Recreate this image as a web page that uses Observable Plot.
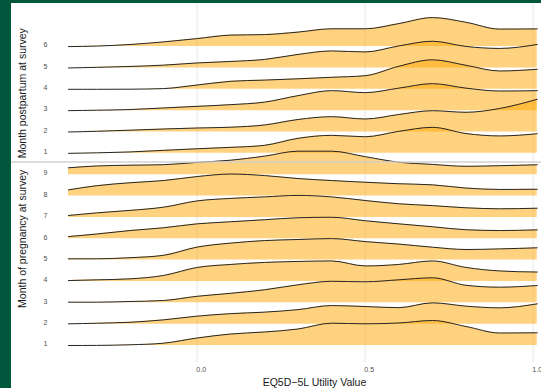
<!DOCTYPE html>
<html><head><meta charset="utf-8">
<script src="https://cdn.jsdelivr.net/npm/d3@7"></script>
<script src="https://cdn.jsdelivr.net/npm/@observablehq/plot@0.6"></script>
<style>
html,body{margin:0;padding:0;background:#00573c;width:541px;height:388px;overflow:hidden}
#chart{position:absolute;left:11px;top:3px;width:530px;height:385px;background:#fff;overflow:hidden}
</style></head><body><div id="chart"></div>
<script>
// EQ5D-5L utility grid at which ridge densities were read
const utility = [-0.383, -0.3, -0.2, -0.1, 0, 0.1, 0.2, 0.3, 0.4, 0.5, 0.6, 0.7, 0.8, 0.9, 1.012];

const pregnancyMonths = [1, 2, 3, 4, 5, 6, 7, 8, 9];
const postpartumMonths = [1, 2, 3, 4, 5, 6];

// densities (relative height) per month, at the utility grid
const pregnancy1 = [0, 0.1, 0.7, 2.3, 7.5, 11.5, 13.5, 16.5, 22.3, 21.7, 22.5, 25, 19, 12.5, 12.7];
const pregnancy2 = [0.3, 0.9, 1.9, 4.3, 8, 10.5, 12, 14.5, 18.6, 17.6, 16.5, 21.3, 18, 16.3, 20.3];
const pregnancy3 = [0.6, 0.6, 1.3, 2.3, 6.5, 9.5, 13, 18, 21.5, 21, 23, 25, 17.5, 15.6, 17.3];
const pregnancy4 = [0.9, 1.6, 2.6, 6, 14, 17, 19, 20, 20.5, 15.5, 17, 20.5, 14, 10.5, 9.4];
const pregnancy5 = [1.3, 1.3, 2.4, 4.8, 13, 17, 19.5, 20.6, 21.5, 18.5, 16, 12.9, 10.6, 11.2, 12.3];
const pregnancy6 = [2.2, 4.7, 8.2, 11, 14.9, 17, 19, 21, 21.5, 18, 14.9, 12, 9, 8.2, 8.9];
const pregnancy7 = [1.9, 4.5, 7, 10.2, 16.5, 19, 20.5, 22, 20.5, 16.9, 13.6, 11.8, 9.6, 8.6, 9.2];
const pregnancy8 = [6.2, 10.3, 13.3, 15.5, 19.5, 22, 20.5, 17.5, 15.5, 13.8, 12.3, 11.2, 8, 6.6, 6.8];
const pregnancy9 = [6.9, 8.7, 9.5, 10, 12.3, 14.5, 18.5, 23.5, 23.5, 18, 12.5, 10.3, 8.4, 9, 9.9];

const postpartum1 = [0, 0.5, 1.4, 3, 4.6, 6, 8, 15, 18, 16.6, 22, 26, 19.8, 17.4, 19.6];
const postpartum2 = [0, 0.7, 1.8, 3, 4, 4.8, 7, 12.5, 15.3, 13, 17.5, 21.3, 19.7, 23.5, 32.7];
const postpartum3 = [0, 0.4, 1.1, 2.7, 4.3, 6, 8.5, 15, 20, 18, 22.5, 27, 22.5, 19.6, 20];
const postpartum4 = [0, 0, 0.1, 0.7, 4.3, 8, 9.2, 10.5, 12, 13.6, 23, 29.5, 24, 18.3, 20];
const postpartum5 = [0, 0.6, 1.5, 2.8, 5, 6.5, 8.5, 13.5, 17, 16, 22, 26.7, 21.5, 19.5, 23.5];
const postpartum6 = [0, 0.5, 2.1, 4.7, 8, 11.5, 12, 14.5, 17.8, 17.8, 23, 29, 24.3, 17.5, 17.7];

const pregnancyDensity = [pregnancy1, pregnancy2, pregnancy3, pregnancy4, pregnancy5, pregnancy6, pregnancy7, pregnancy8, pregnancy9];
const postpartumDensity = [postpartum1, postpartum2, postpartum3, postpartum4, postpartum5, postpartum6];

const xTicks = [0, 0.5, 1];
const xTitle = "EQ5D\u22125L Utility Value";
const pregnancyTitle = "Month of pregnancy at survey";
const postpartumTitle = "Month postpartum at survey";

// ---- layout ----
const W = 530, H = 385;
const rowPx = 21.35;          // pixels per ridge row
const densityToRows = 1 / rowPx;
const baseY = 342;            // pixel of row 1
const panelBreak = 9.6;       // separator between facets (row units)
const labelAt = -0.4455;      // utility position of the month labels' right edge

const ridges = [];
postpartumMonths.forEach((m, i) => ridges.push({pos: pregnancyMonths.length + m, label: String(m), dens: postpartumDensity[i]}));
pregnancyMonths.forEach((m, i) => ridges.push({pos: m, label: String(m), dens: pregnancyDensity[i]}));
ridges.sort((a, b) => b.pos - a.pos);

const fill = "orange";
const lineColor = "#262626";
const titleColor = "#1a1a1a";

const marks = [
  Plot.ruleX(xTicks, {stroke: "#e8e8e8", strokeWidth: 1.1})
];
for (const r of ridges) {
  const rows = utility.map((u, i) => ({x: u, base: r.pos, top: r.pos + r.dens[i] * densityToRows}));
  marks.push(Plot.areaY(rows, {x: "x", y1: "base", y2: "top", fill, fillOpacity: 0.5, curve: "monotone-x"}));
  marks.push(Plot.lineY(rows, {x: "x", y: "top", stroke: lineColor, strokeWidth: 1, curve: "monotone-x"}));
}
marks.push(Plot.ruleY([panelBreak], {x1: -0.56, x2: 1.05, stroke: "#cfcfcf", strokeWidth: 2, strokeOpacity: 0.7}));
// y tick labels
marks.push(Plot.text(ridges, {x: () => labelAt, y: "pos", text: "label", dy: -1.5, textAnchor: "end", lineAnchor: "middle", fontSize: 7, fill: "#4d4d4d"}));
// x axis
marks.push(Plot.axisX({ticks: xTicks, tickFormat: d3.format(".1f"), tickSize: 0, tickPadding: 4.5, label: null, fontSize: 7, dx: 4}));
// axis titles
marks.push(Plot.text([postpartumTitle], {frameAnchor: "top-left", dx: 11.5, dy: 89.7, rotate: -90, textAnchor: "middle", lineAnchor: "middle", fontSize: 10.5, fill: titleColor}));
marks.push(Plot.text([pregnancyTitle], {frameAnchor: "top-left", dx: 11.5, dy: 235.3, rotate: -90, textAnchor: "middle", lineAnchor: "middle", fontSize: 10.5, fill: titleColor}));
marks.push(Plot.text([xTitle], {frameAnchor: "bottom-left", dx: 303, dy: 20.5, textAnchor: "middle", lineAnchor: "middle", fontSize: 10.5, fill: titleColor}));

const chart = Plot.plot({
  width: W, height: H,
  marginTop: 0, marginBottom: 26, marginLeft: 0, marginRight: 0,
  x: {domain: [-0.5, 1], range: [17.7, 521.7]},
  y: {domain: [1, 15], range: [baseY, baseY - 14 * rowPx]},
  style: {fontFamily: "'Liberation Sans', Arial, sans-serif", fontSize: "7px", color: "#4d4d4d", background: "transparent", overflow: "visible"},
  marks
});
document.getElementById("chart").appendChild(chart);
</script>
</body></html>
